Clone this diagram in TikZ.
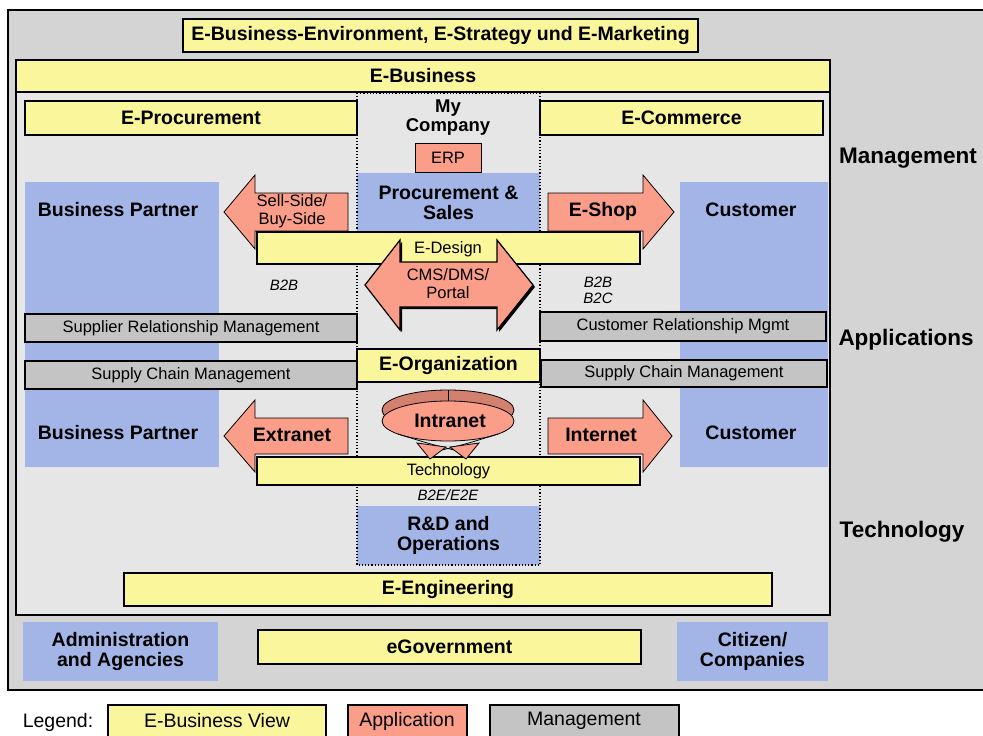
\documentclass[tikz,border=0pt]{standalone}
\usepackage{fontspec}
\setmainfont{Liberation Sans}
\definecolor{framegray}{RGB}{212,212,212}
\definecolor{innergray}{RGB}{230,230,230}
\definecolor{viewyellow}{RGB}{250,246,155}
\definecolor{appred}{RGB}{250,158,138}
\definecolor{ringred}{RGB}{212,128,110}
\definecolor{partyblue}{RGB}{163,181,230}
\definecolor{mgmtgray}{RGB}{196,196,196}
\tikzset{
  view/.style={fill=viewyellow, draw=black, line width=1.2pt},
  app/.style={fill=appred, draw=black, line width=0.8pt},
  mgmt/.style={fill=mgmtgray, draw=black, line width=1.2pt},
  party/.style={fill=partyblue},
  big/.style={font=\fontsize{19.5}{20}\selectfont\bfseries, align=center},
  side/.style={font=\fontsize{22.5}{24}\selectfont\bfseries},
  small/.style={font=\fontsize{16.5}{18}\selectfont, align=center},
  legendtext/.style={font=\fontsize{19.5}{20}\selectfont},
  tag/.style={font=\fontsize{15}{16}\selectfont\itshape, align=center}
}
\begin{document}
\begin{tikzpicture}[x=1pt,y=-1pt]
    \useasboundingbox (0,0) rectangle (983,736);
    \clip (0,0) rectangle (983,736);
    \fill[white] (0,0) rectangle (983,736);
    % outer frame
    \filldraw[fill=framegray, line width=1.8pt] (8,10) rectangle (1000,690);
    \filldraw[view] (183,19) rectangle (698,52) node[midway,big] (env) {E-Business-Environment, E-Strategy und E-Marketing};
    % e-business area
    \filldraw[fill=innergray, line width=1.5pt] (16,60) rectangle (830,615);
    \filldraw[view] (16,60) rectangle (830,92) node[midway,big] (ebiz) {E-Business};
    \fill[party] (25,182) rectangle (219,467);
    \fill[party] (680,182) rectangle (828,467);
    \node[big] (bp1) at (118,210) {Business Partner};
    \node[big] (bp2) at (118,433) {Business Partner};
    \node[big] (cust1) at (751,210) {Customer};
    \node[big] (cust2) at (751,433) {Customer};
    % my company
    \node[big, font=\fontsize{18.5}{19}\selectfont\bfseries] (myco) at (448,118) {My\\Company};
    \fill[party] (357,173) rectangle (540,232) node[midway,big] (procsales) {Procurement \&\\Sales};
    \fill[party] (357,506) rectangle (540,565) node[midway,big] (rnd) {R\&D and\\Operations};
    \draw[dotted, line width=1.2pt] (357,93) rectangle (540,565);
    \filldraw[view] (25,101) rectangle (357,135) node[midway,big] (eproc) {E-Procurement};
    \filldraw[view] (540,101) rectangle (823,135) node[midway,big] (ecom) {E-Commerce};
    \filldraw[app] (415,143) rectangle (481,172) node[midway,small] (erp) {ERP};
    % arrows upper
    \filldraw[app] (224,212) -- (255,175) -- (255,193) -- (348,193) -- (348,231) -- (255,231) -- (255,249) -- cycle;
    \node[small] (sellbuy) at (292,211) {Sell-Side/\\Buy-Side};
    \filldraw[app] (674,212) -- (643,175) -- (643,193) -- (548,193) -- (548,231) -- (643,231) -- (643,249) -- cycle;
    \node[big] (eshop) at (603,211) {E-Shop};
    \filldraw[view] (257,232) rectangle (640,264);
    \node[small] (edesign) at (448,249) {E-Design};
    \fill[black] (367,287) -- (402,242) -- (402,264) -- (499,264) -- (499,242) -- (535,287) -- (499,332) -- (499,309) -- (402,309) -- (402,332) -- cycle;
    \filldraw[app, line width=1.2pt] (365,285) -- (400,240) -- (400,262) -- (497,262) -- (497,240) -- (533,285) -- (497,330) -- (497,307) -- (400,307) -- (400,330) -- cycle;
    \node[small] (cms) at (448,284) {CMS/DMS/\\Portal};
    \node[tag] (b2b) at (284,285) {B2B};
    \node[tag] (b2c) at (598,290) {B2B\\B2C};
    % management bars
    \filldraw[mgmt] (25,314) rectangle (357,342) node[midway,small] (srm) {Supplier Relationship Management};
    \filldraw[mgmt] (540,312) rectangle (826,341) node[midway,small] (crm) {Customer Relationship Mgmt};
    \filldraw[view] (357,349) rectangle (540,382) node[midway,big] (eorg) {E-Organization};
    \filldraw[mgmt] (25,361) rectangle (357,389) node[midway,small] (scml) {Supply Chain Management};
    \filldraw[mgmt] (541,360) rectangle (827,387) node[midway,small] (scmr) {Supply Chain Management};
    % arrows lower
    \filldraw[app] (224,436) -- (255,400) -- (255,418) -- (348,418) -- (348,454) -- (255,454) -- (255,472) -- cycle;
    \node[big] (extra) at (292,435) {Extranet};
    \filldraw[app] (672,436) -- (643,400) -- (643,418) -- (548,418) -- (548,454) -- (643,454) -- (643,472) -- cycle;
    \node[big] (inter) at (601,435) {Internet};
    \filldraw[view] (257,457) rectangle (640,485) node[midway,small] (tech) {Technology};
    % intranet ring
    \filldraw[fill=ringred, line width=0.8pt] (448,410) ellipse [x radius=66, y radius=20];
    \filldraw[fill=appred, line width=0.8pt] (448,421) ellipse [x radius=66, y radius=20];
    \draw[line width=0.8pt] (448,390) -- (448,401);
    \draw[line width=0.8pt] (398,434) .. controls (430,444) .. (462,452);
    \draw[line width=0.8pt] (498,434) .. controls (466,444) .. (434,452);
    \filldraw[app] (430,459) -- (417,443) -- (446,447) -- cycle;
    \filldraw[app] (466,459) -- (479,443) -- (450,447) -- cycle;
    \node[big] (intra) at (450,421) {Intranet};
    \node[tag] (b2e) at (448,495) {B2E/E2E};
    \filldraw[view] (124,573) rectangle (772,606) node[midway,big] (eeng) {E-Engineering};
    % government row
    \fill[party] (23,622) rectangle (218,681) node[midway,big] (admin) {Administration\\and Agencies};
    \filldraw[view] (258,630) rectangle (641,664) node[midway,big] (egov) {eGovernment};
    \fill[party] (677,622) rectangle (828,681) node[midway,big] (citizen) {Citizen/\\Companies};
    % layers
    \node[side] (lmgmt) at (908,158) {Management};
    \node[side] (lapp) at (906,340) {Applications};
    \node[side] (ltech) at (902,532) {Technology};
    % legend
    \node[legendtext] (legend) at (58,722) {Legend:};
    \filldraw[view] (108,705) rectangle (326,750);
    \node[legendtext] (lview) at (217,721) {E-Business View};
    \filldraw[app, line width=1.2pt] (348,705) rectangle (467,750);
    \node[legendtext] (lapp2) at (407,721) {Application};
    \filldraw[mgmt] (490,705) rectangle (679,750);
    \node[legendtext] (lmgmt2) at (584,721) {Management};
\end{tikzpicture}
\end{document}
